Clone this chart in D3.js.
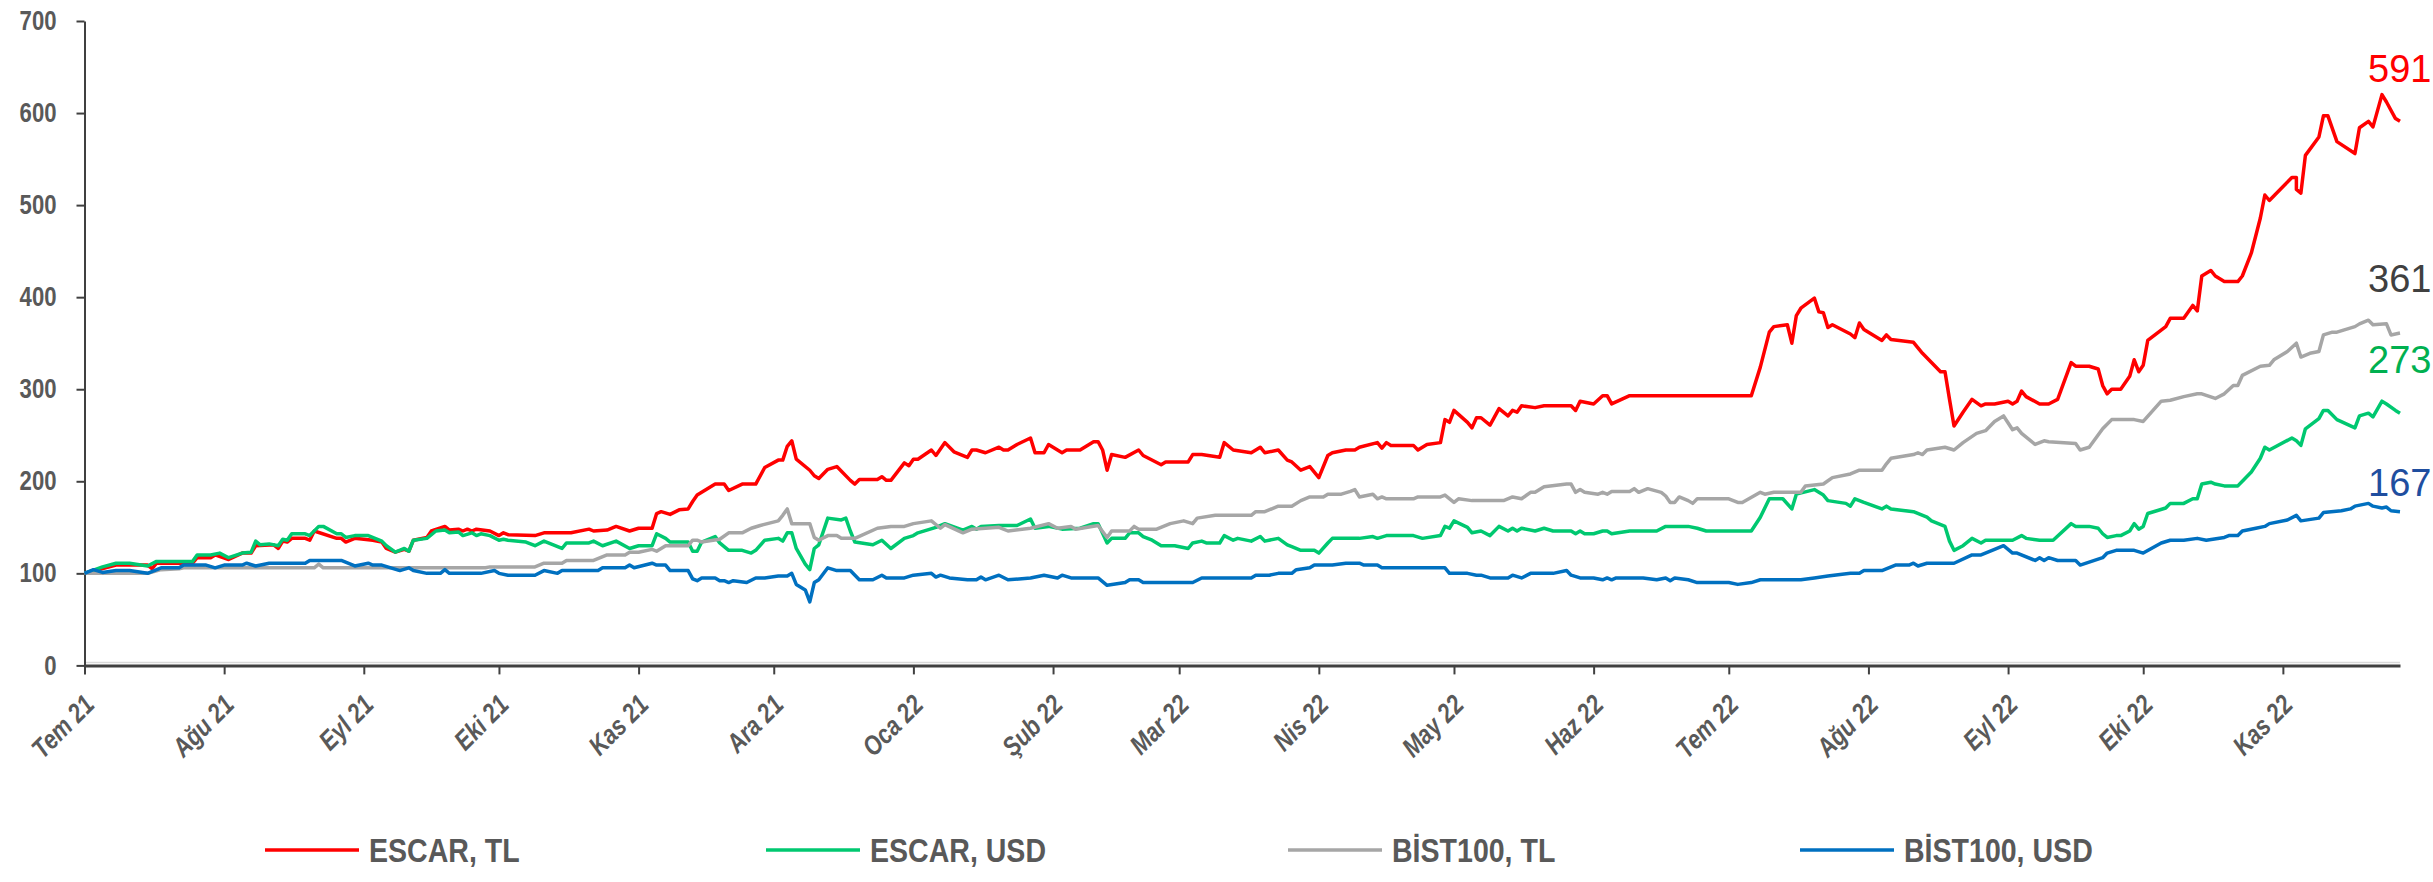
<!DOCTYPE html>
<html>
<head>
<meta charset="utf-8">
<script src="https://cdn.jsdelivr.net/npm/d3@7"></script>
<style>
body { margin: 0; background: #fff; }
.narrow { font-family: "Liberation Sans", Arial, sans-serif; }
</style>
</head>
<body>
<svg id="chart" width="2433" height="882"></svg>
<script>
// day = days since 1 Jul 2021, value = index (start = 100)
var startDate = new Date(2021, 6, 1);
var lastDay = 514;

var monthLabels = ['Tem 21', 'Ağu 21', 'Eyl 21', 'Eki 21', 'Kas 21', 'Ara 21', 'Oca 22', 'Şub 22',
    'Mar 22', 'Nis 22', 'May 22', 'Haz 22', 'Tem 22', 'Ağu 22', 'Eyl 22', 'Eki 22', 'Kas 22'];
var yTicks = [0, 100, 200, 300, 400, 500, 600, 700];
var seriesNames = ['ESCAR, TL', 'ESCAR, USD', 'BİST100, TL', 'BİST100, USD'];
var endLabels = [591, 273, 361, 167];

var escarTL = [[0,100],[7,109],[14,109],[15,105],[16,111],[24,111],[25,117],[28,117],[29,120],[32,115],[35,122],[37,122],[38,130],[42,131],[43,127],[44,135],[45,134],[46,138],[49,138],[50,136],[51,146],[56,138],[57,138],[58,134],[60,138],[64,136],[66,134],[67,127],[69,123],[71,126],[72,124],[73,136],[76,139],[77,146],[80,151],[81,147],[83,148],[84,146],[85,148],[86,146],[87,148],[90,146],[92,141],[93,144],[94,142],[100,141],[102,144],[108,144],[112,148],[113,146],[116,147],[118,151],[121,146],[123,149],[126,149],[127,165],[128,167],[130,164],[132,169],[134,170],[135,178],[136,185],[140,197],[142,197],[143,190],[146,197],[149,197],[151,215],[154,223],[155,223],[156,238],[157,244],[158,224],[161,212],[162,206],[163,203],[165,213],[167,216],[170,201],[171,197],[172,202],[176,202],[177,205],[178,201],[179,201],[182,220],[183,217],[184,224],[185,224],[188,234],[189,228],[191,242],[193,232],[196,226],[197,234],[198,234],[200,231],[203,237],[204,234],[205,234],[207,240],[210,247],[211,231],[213,231],[214,240],[217,231],[218,234],[221,234],[224,243],[225,243],[226,234],[227,212],[228,229],[231,226],[234,234],[235,228],[239,218],[240,221],[245,221],[246,229],[248,229],[252,226],[253,242],[255,234],[259,231],[261,237],[262,231],[265,234],[267,223],[268,221],[270,212],[272,216],[274,204],[276,228],[277,231],[280,234],[282,234],[283,237],[287,242],[288,236],[289,242],[290,239],[295,239],[296,234],[298,240],[301,242],[302,267],[303,264],[304,277],[307,264],[308,258],[309,269],[310,269],[312,261],[314,279],[316,271],[317,277],[318,275],[319,282],[322,280],[324,282],[330,282],[331,277],[332,287],[335,284],[337,293],[338,293],[339,284],[343,293],[370,293],[372,324],[374,362],[375,368],[378,370],[379,350],[380,380],[381,388],[384,399],[385,384],[386,383],[387,367],[388,370],[392,360],[393,356],[394,372],[395,365],[399,353],[400,359],[401,354],[406,351],[408,339],[410,329],[412,319],[413,319],[414,289],[415,260],[417,275],[419,289],[421,282],[422,284],[424,284],[427,287],[428,284],[429,287],[430,298],[431,292],[434,284],[436,284],[438,289],[441,329],[442,325],[445,325],[447,322],[448,304],[449,295],[450,300],[452,300],[454,314],[455,332],[456,319],[457,326],[458,353],[462,368],[463,377],[466,377],[468,391],[469,385],[470,423],[472,429],[473,423],[475,417],[478,417],[479,423],[481,448],[483,486],[484,511],[485,505],[490,530],[491,530],[491,517],[492,513],[493,554],[496,574],[497,597],[498,597],[500,569],[504,556],[505,584],[507,591],[508,585],[510,620],[511,612],[513,594],[514,591]];

var escarUSD = [[0,100],[4,107],[7,111],[10,111],[14,108],[16,113],[24,113],[25,120],[28,120],[30,122],[32,117],[35,122],[37,123],[38,135],[39,131],[41,132],[43,130],[44,137],[45,136],[46,143],[49,143],[50,141],[52,151],[53,151],[56,143],[57,143],[58,139],[60,141],[63,141],[66,135],[67,130],[69,123],[71,127],[72,124],[73,136],[76,138],[78,146],[80,147],[81,144],[83,145],[84,141],[86,144],[87,141],[88,143],[90,141],[92,136],[93,137],[94,136],[98,134],[100,130],[102,135],[106,127],[107,133],[112,133],[113,135],[115,130],[118,135],[121,127],[123,130],[126,130],[127,143],[129,138],[130,134],[134,134],[135,124],[136,124],[137,134],[140,140],[141,133],[143,125],[146,125],[148,122],[149,125],[151,136],[154,138],[155,135],[156,144],[157,144],[158,127],[160,110],[161,104],[162,127],[163,131],[165,160],[168,158],[169,160],[170,146],[171,134],[175,131],[177,136],[179,127],[182,138],[184,141],[185,144],[189,150],[191,154],[195,147],[197,151],[198,148],[199,151],[203,152],[207,152],[210,159],[211,149],[214,151],[217,148],[221,149],[224,154],[225,154],[227,133],[228,138],[231,138],[232,144],[234,144],[235,140],[237,136],[239,130],[242,130],[245,127],[246,133],[248,135],[249,133],[252,133],[253,141],[255,136],[256,138],[259,135],[261,140],[262,135],[265,138],[267,131],[268,129],[270,125],[273,125],[274,122],[276,133],[277,138],[283,138],[286,140],[287,138],[289,141],[295,141],[297,138],[301,141],[302,151],[303,149],[304,157],[307,150],[308,144],[310,146],[312,141],[314,151],[316,146],[317,149],[318,146],[319,149],[322,146],[324,149],[326,146],[330,146],[331,143],[332,146],[333,143],[335,143],[337,146],[338,146],[339,143],[343,146],[349,146],[351,151],[356,151],[358,149],[360,146],[370,146],[372,161],[374,181],[377,181],[379,170],[380,186],[384,191],[386,185],[387,179],[391,176],[392,173],[393,181],[395,177],[399,170],[400,173],[401,170],[406,167],[409,161],[410,157],[413,151],[414,135],[415,125],[417,130],[419,138],[421,133],[422,136],[428,136],[430,141],[431,138],[434,136],[437,136],[441,154],[442,151],[445,151],[447,149],[448,143],[449,139],[451,141],[452,141],[454,146],[455,154],[456,148],[457,151],[458,165],[462,171],[463,176],[466,176],[468,181],[469,181],[470,197],[472,199],[473,197],[475,195],[478,195],[479,200],[481,210],[483,225],[484,237],[485,234],[490,247],[491,244],[492,239],[493,257],[496,268],[497,277],[498,277],[500,267],[504,258],[505,271],[507,274],[508,270],[510,287],[511,284],[513,277],[514,274]];

var bistTL = [[0,100],[14,100],[17,104],[21,105],[22,106],[51,106],[52,110],[53,106],[89,106],[90,107],[100,107],[102,111],[106,111],[107,114],[113,114],[116,120],[120,120],[121,123],[123,123],[126,126],[127,124],[129,130],[134,130],[135,136],[136,136],[137,134],[141,137],[143,144],[146,144],[148,149],[150,152],[154,157],[155,163],[156,170],[157,154],[161,154],[162,139],[163,136],[165,141],[167,141],[168,138],[171,138],[176,149],[179,151],[182,151],[184,154],[188,157],[190,149],[191,153],[195,144],[197,148],[203,150],[205,146],[210,149],[214,154],[216,149],[219,151],[220,148],[225,152],[227,139],[228,146],[232,146],[233,151],[234,148],[238,148],[241,154],[244,157],[246,154],[247,160],[251,163],[259,163],[260,167],[262,167],[265,173],[268,173],[270,179],[272,183],[275,183],[276,186],[279,186],[281,189],[282,191],[283,183],[286,186],[287,181],[288,183],[289,181],[295,181],[296,183],[301,183],[302,185],[304,177],[305,181],[308,179],[315,179],[317,183],[319,181],[321,188],[322,188],[324,194],[329,197],[330,197],[331,188],[332,191],[333,188],[336,186],[337,188],[338,186],[339,189],[343,189],[344,192],[345,188],[347,192],[350,188],[351,184],[352,177],[353,177],[354,183],[356,179],[357,176],[358,181],[365,181],[367,177],[368,177],[372,188],[373,186],[375,188],[381,188],[382,195],[386,197],[388,204],[392,208],[394,212],[399,212],[400,219],[401,225],[406,229],[407,231],[408,229],[409,234],[413,237],[415,234],[417,242],[420,252],[422,255],[424,265],[426,271],[428,256],[429,258],[430,252],[433,240],[435,244],[436,243],[442,241],[443,234],[445,237],[448,257],[450,267],[455,267],[457,265],[461,287],[463,288],[466,292],[469,295],[470,295],[473,290],[475,295],[477,304],[478,304],[479,315],[483,325],[485,326],[486,332],[489,341],[491,350],[492,335],[494,339],[496,341],[497,359],[499,362],[500,362],[504,368],[505,371],[507,375],[508,370],[511,371],[512,359],[514,361]];

var bistUSD = [[0,100],[2,104],[4,101],[7,103],[10,103],[14,100],[17,106],[21,106],[22,109],[27,109],[29,106],[31,109],[35,109],[36,111],[38,108],[41,111],[49,111],[50,114],[57,114],[60,108],[63,111],[64,109],[66,109],[70,103],[72,106],[73,103],[76,100],[79,100],[80,104],[81,100],[88,100],[91,103],[92,100],[94,98],[100,98],[102,103],[105,100],[106,103],[114,103],[115,106],[120,106],[121,109],[122,106],[126,111],[127,109],[129,109],[130,103],[134,103],[135,94],[136,92],[137,95],[140,95],[141,92],[142,92],[143,90],[144,92],[147,90],[149,95],[151,95],[154,97],[156,97],[157,100],[158,88],[160,82],[161,69],[162,90],[163,93],[165,106],[167,103],[170,103],[172,93],[175,93],[177,98],[178,95],[182,95],[184,98],[188,100],[189,96],[190,98],[192,95],[196,93],[198,93],[199,96],[200,93],[203,98],[205,93],[210,95],[213,98],[216,95],[217,98],[219,95],[225,95],[227,87],[231,90],[232,93],[234,93],[235,90],[246,90],[248,95],[259,95],[260,98],[263,98],[265,100],[268,100],[269,104],[272,106],[273,109],[277,109],[280,111],[283,111],[284,109],[287,109],[288,106],[302,106],[303,100],[307,100],[309,98],[310,98],[312,95],[316,95],[317,98],[319,95],[321,100],[326,100],[329,103],[330,98],[332,95],[335,95],[337,93],[338,95],[339,93],[340,95],[346,95],[349,93],[351,95],[352,92],[353,95],[356,93],[358,90],[365,90],[367,88],[370,90],[372,93],[381,93],[384,95],[387,97],[392,100],[394,100],[395,103],[399,103],[402,109],[405,109],[406,111],[407,108],[409,111],[415,111],[419,120],[421,120],[424,126],[426,130],[428,122],[429,122],[433,114],[434,117],[435,114],[436,117],[438,114],[442,114],[443,109],[448,117],[449,122],[451,125],[455,125],[457,122],[461,133],[463,136],[466,136],[469,138],[471,136],[475,139],[476,141],[478,141],[479,146],[482,149],[484,151],[485,154],[489,158],[491,163],[492,157],[496,160],[497,166],[501,168],[503,170],[504,173],[507,176],[508,173],[510,171],[511,172],[512,168],[514,167]];

var allSeries = [escarTL, escarUSD, bistTL, bistUSD];
var lineColors = ['#ff0000', '#00c870', '#a6a6a6', '#0070c0'];
var labelColors = ['#ff0000', '#00b050', '#404040', '#1f4e9f'];

var svg = d3.select('#chart');

var x = d3.scaleTime()
    .domain([startDate, d3.timeDay.offset(startDate, lastDay)])
    .range([84.5, 2400]);

var y = d3.scaleLinear()
    .domain([0, 700])
    .range([665.4, 21]);

var monthDates = d3.timeMonth.range(startDate, new Date(2022, 11, 1));

// light line just above the category axis
svg.append('line')
    .attr('x1', 85).attr('x2', 2400)
    .attr('y1', y(0) - 3).attr('y2', y(0) - 3)
    .attr('stroke', '#d9d9d9').attr('stroke-width', 1.5);

var yAxis = svg.append('g')
    .attr('transform', 'translate(84.5,0)')
    .call(d3.axisLeft(y).tickValues(yTicks).tickSize(8).tickSizeOuter(0));

yAxis.select('.domain').attr('stroke', '#404040').attr('stroke-width', 2);
yAxis.selectAll('.tick line').attr('stroke', '#404040').attr('stroke-width', 2);
// the original uses a condensed face, so squeeze the glyphs horizontally
yAxis.selectAll('.tick text')
    .attr('class', 'narrow')
    .attr('fill', '#595959')
    .attr('x', 0)
    .attr('transform', 'translate(-28,0) scale(0.82,1)')
    .style('font-size', '27px')
    .style('font-weight', 'bold');

var xAxis = svg.append('g')
    .attr('transform', 'translate(0,' + y(0) + ')')
    .call(d3.axisBottom(x).tickValues(monthDates).tickSize(9).tickSizeOuter(0)
        .tickFormat(function(d, i) { return monthLabels[i]; }));

xAxis.select('.domain').attr('stroke', '#404040').attr('stroke-width', 3);
xAxis.selectAll('.tick line').attr('stroke', '#404040').attr('stroke-width', 2);
xAxis.selectAll('.tick text')
    .attr('class', 'narrow')
    .attr('fill', '#595959')
    .attr('x', 0).attr('y', 0).attr('dy', 0)
    .attr('text-anchor', 'end')
    .attr('transform', 'translate(11,41) rotate(-45) scale(0.82,1)')
    .style('font-size', '27px')
    .style('font-weight', 'bold')
    .style('font-style', 'italic');

var line = d3.line()
    .x(function(d) { return x(d3.timeDay.offset(startDate, d[0])); })
    .y(function(d) { return y(d[1]); });

svg.append('g').selectAll('path')
    .data(allSeries)
    .enter().append('path')
    .attr('d', line)
    .attr('fill', 'none')
    .attr('stroke', function(d, i) { return lineColors[i]; })
    .attr('stroke-width', 3.5)
    .attr('stroke-linejoin', 'round');

// end values, stacked on the right
var endY = [82, 373, 292, 496];
svg.append('g').selectAll('text')
    .data(endLabels)
    .enter().append('text')
    .attr('x', 2368)
    .attr('y', function(d, i) { return endY[i]; })
    .attr('fill', function(d, i) { return labelColors[i]; })
    .style('font-family', '"Liberation Sans", Arial, sans-serif')
    .style('font-size', '38px')
    .text(function(d) { return d; });

// legend
var legendX = [265, 766, 1288, 1800];
var legend = svg.append('g').selectAll('g')
    .data(seriesNames)
    .enter().append('g')
    .attr('transform', function(d, i) { return 'translate(' + legendX[i] + ',850)'; });

legend.append('line')
    .attr('x1', 0).attr('x2', 94)
    .attr('stroke', function(d, i) { return lineColors[i]; })
    .attr('stroke-width', 3.5);

legend.append('text')
    .attr('class', 'narrow')
    .attr('x', 0)
    .attr('dy', '0.35em')
    .attr('transform', 'translate(104,0) scale(0.84,1)')
    .attr('fill', '#595959')
    .style('font-size', '34px')
    .style('font-weight', 'bold')
    .text(function(d) { return d; });
</script>
</body>
</html>
